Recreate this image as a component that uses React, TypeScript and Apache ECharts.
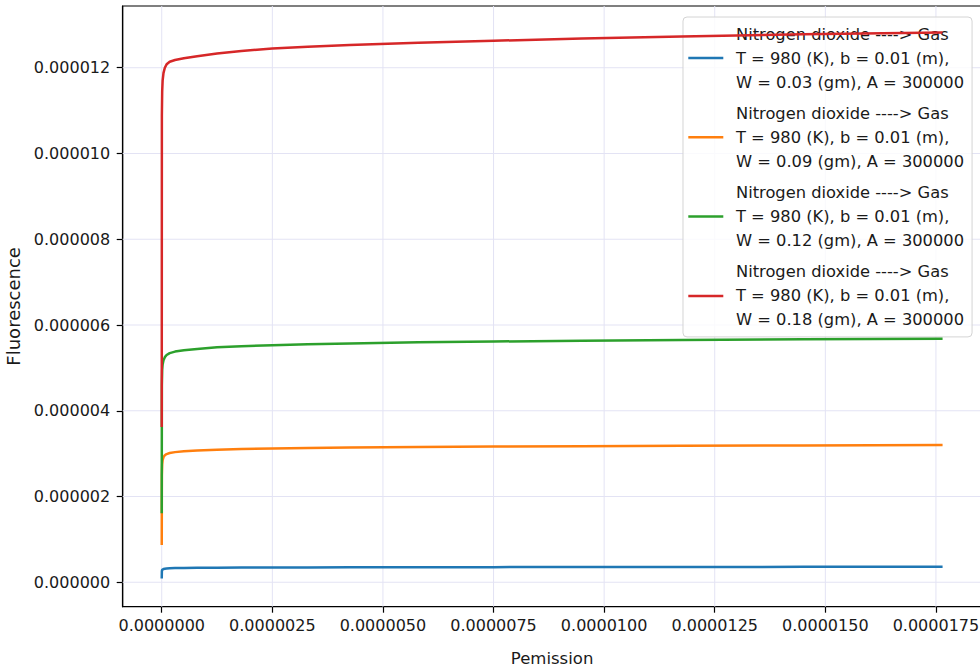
import React, { useEffect, useRef } from "react";
import * as echarts from "echarts";

// Sample positions and curve values are kept in micro-units (×1e-6).
const MICRO = 1e-6;

const PEMISSION = [
  0, 0.003, 0.01, 0.02, 0.04, 0.07, 0.11, 0.18, 0.3, 0.5, 0.8, 1.25, 1.8, 2.5,
  3.3, 4.25, 5.8, 7.5, 9.5, 11.75, 14.5, 17.65,
];

const FLUOR_W003 = [
  0.09, 0.26, 0.29, 0.3, 0.31, 0.315, 0.32, 0.325, 0.33, 0.333, 0.336, 0.339,
  0.342, 0.345, 0.347, 0.349, 0.351, 0.353, 0.355, 0.357, 0.359, 0.36,
];
const FLUOR_W009 = [
  0.87, 2.5, 2.75, 2.85, 2.92, 2.96, 2.99, 3.015, 3.035, 3.054, 3.073, 3.092,
  3.107, 3.12, 3.131, 3.142, 3.155, 3.165, 3.175, 3.183, 3.192, 3.2,
];
const FLUOR_W012 = [
  1.61, 4.6, 4.95, 5.08, 5.18, 5.25, 5.3, 5.345, 5.38, 5.41, 5.44, 5.48, 5.505,
  5.53, 5.55, 5.57, 5.595, 5.615, 5.633, 5.65, 5.666, 5.68,
];
const FLUOR_W018 = [
  3.62, 10.9, 11.45, 11.7, 11.88, 12.0, 12.08, 12.14, 12.18, 12.22, 12.27,
  12.33, 12.39, 12.45, 12.49, 12.53, 12.58, 12.63, 12.68, 12.73, 12.78, 12.82,
];

const X_TICKS = [0, 0.0000025, 0.000005, 0.0000075, 0.00001, 0.0000125, 0.000015, 0.0000175];
const Y_TICKS = [0, 0.000002, 0.000004, 0.000006, 0.000008, 0.00001, 0.000012];

const SPECIES = "Nitrogen dioxide ----> Gas";
const TEMPERATURE = "980";
const PATH_LENGTH = "0.01";
const WEIGHTS = ["0.03", "0.09", "0.12", "0.18"];
const ABSORPTIVITY = "300000";
const CURVES = [FLUOR_W003, FLUOR_W009, FLUOR_W012, FLUOR_W018];
const COLORS = ["#1f77b4", "#ff7f0e", "#2ca02c", "#d62728"];

const X_MIN = -0.8825 * MICRO;
const X_MAX = 18.53 * MICRO;
const Y_MIN = -0.57 * MICRO;
const Y_MAX = 13.44 * MICRO;

const FONT = "DejaVu Sans";
const INK = "#1a1a1a";
const GRID_COLOR = "#e3e3f4";

const seriesName = (w: string) =>
  `${SPECIES}\nT = ${TEMPERATURE} (K), b = ${PATH_LENGTH} (m),\nW = ${w} (gm), A = ${ABSORPTIVITY}`;

// grid line through one tick value, spanning the whole plot area
const gridLineSeries = (vertical: boolean) => ({
  type: "custom",
  silent: true,
  z: 1,
  clip: false,
  data: (vertical ? X_TICKS : Y_TICKS).map((v) => (vertical ? [v, 0] : [0, v])),
  renderItem: (_params: any, api: any) => {
    const v = api.value(vertical ? 0 : 1);
    const a = api.coord(vertical ? [v, Y_MIN] : [X_MIN, v]);
    const b = api.coord(vertical ? [v, Y_MAX] : [X_MAX, v]);
    return {
      type: "line",
      shape: { x1: a[0], y1: a[1], x2: b[0], y2: b[1] },
      style: { stroke: GRID_COLOR, lineWidth: 1 },
    };
  },
});

export default function App() {
  const ref = useRef<HTMLDivElement>(null);

  useEffect(() => {
    if (!ref.current) return;
    const chart = echarts.init(ref.current, null, { renderer: "svg" });
    const names = WEIGHTS.map(seriesName);

    const option: any = {
      animation: false,
      backgroundColor: "#ffffff",
      textStyle: { fontFamily: FONT },
      grid: {
        left: 122.7,
        top: 6,
        width: 858.8,
        height: 600.7,
        show: true,
        borderColor: "#000",
        borderWidth: 1.2,
        backgroundColor: "transparent",
        containLabel: false,
        outerBoundsMode: "none",
      },
      legend: {
        data: names,
        orient: "vertical",
        left: 683,
        top: 17,
        padding: [5, 8, 5, 5.3],
        itemGap: 7.3,
        itemWidth: 35,
        itemHeight: 2.5,
        icon: "rect",
        backgroundColor: "rgba(255,255,255,0.8)",
        borderColor: "#d4d4d4",
        borderWidth: 1,
        borderRadius: 4,
        selectedMode: false,
        textStyle: {
          fontFamily: FONT,
          fontSize: 16.3,
          lineHeight: 24,
          color: INK,
          padding: [0, 0, 0, 7.7],
        },
      },
      xAxis: {
        type: "value",
        min: X_MIN,
        max: X_MAX,
        name: "Pemission",
        nameLocation: "middle",
        nameGap: 43,
        nameTextStyle: { fontFamily: FONT, fontSize: 16.5, color: INK },
        axisLine: { show: true, onZero: false, lineStyle: { color: "#000", width: 1.2 } },
        axisTick: {
          show: true,
          length: 6,
          inside: false,
          customValues: X_TICKS,
          lineStyle: { color: "#000", width: 1.2 },
        },
        axisLabel: {
          customValues: X_TICKS,
          margin: 11,
          fontFamily: FONT,
          fontSize: 16,
          color: INK,
          formatter: (v: number) => v.toFixed(7),
        },
        splitLine: { show: false },
      },
      yAxis: {
        type: "value",
        min: Y_MIN,
        max: Y_MAX,
        name: "Fluorescence",
        nameLocation: "middle",
        nameGap: 91,
        nameTextStyle: { fontFamily: FONT, fontSize: 18, color: INK },
        axisLine: { show: true, onZero: false, lineStyle: { color: "#000", width: 1.2 } },
        axisTick: {
          show: true,
          length: 6,
          inside: false,
          customValues: Y_TICKS,
          lineStyle: { color: "#000", width: 1.2 },
        },
        axisLabel: {
          customValues: Y_TICKS,
          margin: 12.5,
          fontFamily: FONT,
          fontSize: 16,
          color: INK,
          formatter: (v: number) => v.toFixed(6),
        },
        splitLine: { show: false },
      },
      series: [
        gridLineSeries(true),
        gridLineSeries(false),
        ...CURVES.map((ys, i) => ({
          type: "line",
          name: names[i],
          data: PEMISSION.map((x, k) => [x * MICRO, ys[k] * MICRO]),
          symbol: "none",
          showSymbol: false,
          silent: true,
          z: 3 + i,
          lineStyle: { color: COLORS[i], width: 2.5 },
          itemStyle: { color: COLORS[i] },
        })),
      ],
    };

    chart.setOption(option);
    return () => chart.dispose();
  }, []);

  return (
    <div
      ref={ref}
      style={{ position: "fixed", left: 0, top: 0, width: 980, height: 667, background: "#fff" }}
    />
  );
}
